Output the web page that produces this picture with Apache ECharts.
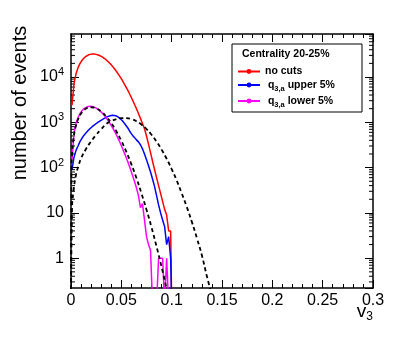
<!DOCTYPE html>
<html>
<head>
<meta charset="utf-8">
<script src="https://cdn.jsdelivr.net/npm/echarts@6/dist/echarts.min.js"></script>
<style>
html,body{margin:0;padding:0;background:#fff}
#chart{width:415px;height:341px}
</style>
</head>
<body>
<div id="chart"></div>
<script>
// histogram bins: centres at 0.001 + i*binWidth, v3 from 0 to 0.1
var binWidth = 0.002;
var EMPTY = 0.1; // empty bin, falls below the axis floor

var noCuts = [2400, 7200, 11800, 16100, 20000, 23400, 26400, 28700, 30500, 31600,
  32100, 32100, 31600, 30700, 29400, 27700, 25900, 23800, 21700, 19600,
  17400, 15400, 13400, 11600, 9900, 8400, 7000, 5800, 4800, 3900,
  3150, 2500, 2000, 1570, 1220, 940, 720, 500, 330, 215,
  138, 91, 60, 40, 27, 18, 12, 9, 4, 4];
var upper5 = [90, 170, 240, 300, 380, 450, 520, 590, 660, 730,
  800, 870, 940, 1010, 1080, 1150, 1220, 1290, 1350, 1400,
  1430, 1420, 1380, 1300, 1200, 1080, 950, 830, 720, 600,
  520, 460, 410, 370, 320, 260, 200, 150, 110, 80,
  56, 38, 24, 15, 10, 7, 5, 2, 3, 1];
var lower5 = [150, 580, 940, 1275, 1570, 1815, 2010, 2140, 2225, 2250,
  2225, 2157, 2054, 1920, 1766, 1600, 1426, 1252, 1085, 926,
  780, 648, 532, 430, 344, 271, 211, 163, 124, 93,
  69, 50, 36, 24, 13, 16, 7, 3, 2, 1.5,
  0.1, 0.1, 0.1, 1, 1, 1, 0.1, 1, 0.1, 0.1];

// fit curves (dashed)
var fitLowX = [0, 0.0005, 0.001, 0.0025, 0.005, 0.0075, 0.01, 0.0125, 0.015, 0.0175, 0.02, 0.025, 0.03, 0.035,
  0.04, 0.045, 0.05, 0.055, 0.06, 0.065, 0.07, 0.075, 0.08, 0.085, 0.09, 0.095];
var fitLowY = [0.05, 89, 177, 440, 860, 1240, 1565, 1820, 2010, 2115, 2150, 2030, 1725, 1340,
  960, 635, 390, 222, 118, 59, 27, 11.8, 4.8, 1.8, 0.64, 0.21];
var fitUpX = [0, 0.001, 0.0025, 0.005, 0.0075, 0.01, 0.015, 0.02, 0.025, 0.03, 0.035, 0.04, 0.045, 0.05,
  0.055, 0.06, 0.065, 0.07, 0.075, 0.08, 0.085, 0.09, 0.095, 0.1, 0.105, 0.11, 0.115, 0.12, 0.125,
  0.13, 0.135, 0.14];
var fitUpY = [0.05, 12, 30, 70, 110, 160, 260, 380, 530, 700, 920, 1060, 1170, 1240,
  1240, 1180, 1055, 890, 710, 530, 375, 250, 157, 93, 52, 27, 13.6, 6.4, 2.8,
  1.16, 0.4, 0.15];

var xTickLabels = ['0', '0.05', '0.1', '0.15', '0.2', '0.25', '0.3'];
var yTickLabels = ['1', '10', '10{s|2}', '10{s|3}', '10{s|4}'];

var yMin = 0.22, yMax = 89000;
var font = 'Liberation Sans';

function histData(vals){
  var d = [];
  for (var i = 0; i < vals.length; i++) {
    d.push([+(binWidth / 2 + i * binWidth).toFixed(4), vals[i]]);
  }
  d.push([+(vals.length * binWidth).toFixed(4), EMPTY]);
  return d;
}
function pairs(xs, ys){
  return xs.map(function(x, i){ return [x, ys[i]]; });
}

// log minor ticks 2..9 x 10^k
var minorTicks = [];
for (var k = -1; k <= 4; k++) {
  for (var m = 2; m <= 9; m++) {
    var t = m * Math.pow(10, k);
    if (t > yMin && t < yMax) minorTicks.push([0, t]);
  }
}

var frame = {lineStyle: {color: '#000', width: 1.5}, onZero: false};
var histLine = function(name, color, vals){
  return {
    name: name, type: 'line', data: histData(vals),
    symbol: 'circle', symbolSize: 4, showSymbol: false,
    lineStyle: {color: color, width: 1.5}, itemStyle: {color: color},
    clip: true, silent: true
  };
};
var fitLine = function(xs, ys){
  return {
    type: 'line', data: pairs(xs, ys), smooth: true, showSymbol: false, symbol: 'none',
    lineStyle: {color: '#000', width: 1.8, type: [4, 3]}, clip: true, silent: true
  };
};

var chart = echarts.init(document.getElementById('chart'));
var option = {
  animation: false,
  backgroundColor: '#fff',
  grid: {left: 71, top: 34, right: 42, bottom: 53, containLabel: false, outerBoundsMode: 'none'},
  xAxis: [{
    type: 'value', min: 0, max: 0.3, interval: 0.05, position: 'bottom',
    axisLine: frame,
    axisTick: {inside: true, length: 8, lineStyle: {color: '#000'}},
    minorTick: {show: true, splitNumber: 5, length: 4, lineStyle: {color: '#000'}},
    splitLine: {show: false},
    axisLabel: {color: '#000', fontSize: 16, fontFamily: font, margin: 5,
      formatter: function(v){ return xTickLabels[Math.round(v / 0.05)]; }}
  }, {
    type: 'value', min: 0, max: 0.3, interval: 0.05, position: 'top',
    axisLine: frame,
    axisTick: {inside: true, length: 8, lineStyle: {color: '#000'}},
    minorTick: {show: true, splitNumber: 5, length: 4, lineStyle: {color: '#000'}},
    splitLine: {show: false},
    axisLabel: {show: false}
  }],
  yAxis: [{
    type: 'log', logBase: 10, min: yMin, max: yMax, position: 'left',
    axisLine: frame,
    axisTick: {inside: true, length: 8, lineStyle: {color: '#000'}},
    splitLine: {show: false},
    axisLabel: {
      color: '#000', margin: 7, showMinLabel: false, showMaxLabel: false,
      formatter: function(v){
        var e = Math.round(Math.log10(v));
        if (Math.abs(Math.log10(v) - e) > 0.01 || !yTickLabels[e]) return '';
        var lab = yTickLabels[e];
        if (lab.indexOf('{') < 0) return '{b|' + lab + '}';
        return '{b|10}' + lab.slice(2);
      },
      rich: {
        b: {fontSize: 16, fontFamily: font, color: '#000', lineHeight: 22, verticalAlign: 'middle'},
        s: {fontSize: 11, fontFamily: font, color: '#000', lineHeight: 12, padding: [0, 0, 10, 0], verticalAlign: 'middle'}
      }
    }
  }, {
    type: 'log', logBase: 10, min: yMin, max: yMax, position: 'right',
    axisLine: frame,
    axisTick: {inside: true, length: 8, lineStyle: {color: '#000'}},
    splitLine: {show: false},
    axisLabel: {show: false}
  }],
  legend: {
    data: ['no cuts', 'upper', 'lower'],
    orient: 'vertical', left: 237, top: 66, padding: 0, itemGap: 0, z: 20,
    itemWidth: 22, itemHeight: 6,
    formatter: function(name){
      if (name === 'no cuts') return '{b|no cuts}';
      return '{b| q}{s|3,a}{b| ' + name + ' 5%}';
    },
    textStyle: {
      rich: {
        b: {fontSize: 10.5, fontWeight: 'bold', fontFamily: font, color: '#000', lineHeight: 16, verticalAlign: 'middle'},
        s: {fontSize: 7.5, fontWeight: 'bold', fontFamily: font, color: '#000', lineHeight: 8, padding: [8, 0, 0, 0], verticalAlign: 'middle'}
      }
    }
  },
  graphic: [
    {type: 'rect', shape: {x: 232, y: 44, width: 130, height: 68},
      style: {fill: '#fff', stroke: '#000', lineWidth: 1}, z: 1},
    {type: 'text', x: 242, y: 54, z: 21,
      style: {text: 'Centrality 20-25%', fontSize: 10.5, fontWeight: 'bold', fontFamily: font,
        fill: '#000', align: 'left', verticalAlign: 'middle'}},
    {type: 'text', x: 20, y: 103, rotation: Math.PI / 2,
      style: {text: 'number of events', fontSize: 20, fontFamily: font, fill: '#000',
        align: 'center', verticalAlign: 'middle'}},
    {type: 'text', x: 373, y: 312,
      style: {text: '{v|v}{s|3}', align: 'right', verticalAlign: 'middle',
        rich: {
          v: {fontSize: 19, fontFamily: font, fill: '#000', lineHeight: 24, verticalAlign: 'middle'},
          s: {fontSize: 12, fontFamily: font, fill: '#000', lineHeight: 14, padding: [10, 0, 0, 0], verticalAlign: 'middle'}
        }}}
  ],
  series: [
    histLine('no cuts', '#ff0000', noCuts),
    histLine('upper', '#0000ff', upper5),
    histLine('lower', '#ff00ff', lower5),
    fitLine(fitLowX, fitLowY),
    fitLine(fitUpX, fitUpY),
    {
      type: 'custom', silent: true, clip: false, data: minorTicks,
      renderItem: function(params, api){
        var y = api.value(1);
        var a = api.coord([0, y]);
        var b = api.coord([0.3, y]);
        return {type: 'group', children: [
          {type: 'line', shape: {x1: a[0], y1: a[1], x2: a[0] + 4, y2: a[1]}, style: {stroke: '#000', lineWidth: 1}},
          {type: 'line', shape: {x1: b[0], y1: b[1], x2: b[0] - 4, y2: b[1]}, style: {stroke: '#000', lineWidth: 1}}
        ]};
      }
    }
  ]
};
chart.setOption(option);
</script>
</body>
</html>
